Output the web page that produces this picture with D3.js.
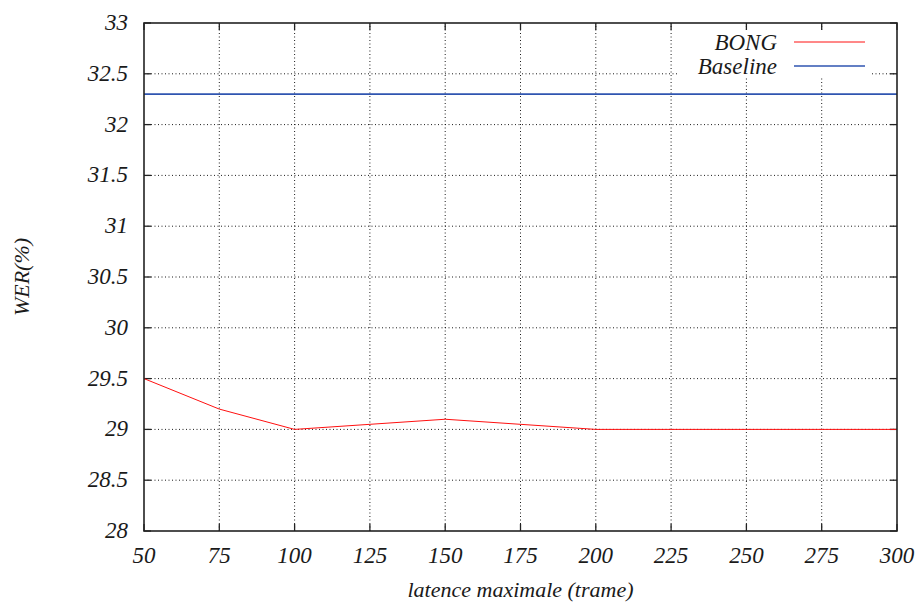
<!DOCTYPE html>
<html>
<head>
<meta charset="utf-8">
<script src="https://cdn.jsdelivr.net/npm/d3@7"></script>
<style>
  body { margin: 0; background: #fff; }
  svg text { font-family: "Liberation Serif", "Times New Roman", serif !important; font-style: italic !important; }
</style>
</head>
<body>
<div id="chart"></div>
<script>
// data
const latence = [50, 75, 100, 150, 200, 250, 300];
const bongWer = [29.5, 29.2, 29.0, 29.1, 29.0, 29.0, 29.0];
const baselineWer = 32.3;
const xTicks = [50, 75, 100, 125, 150, 175, 200, 225, 250, 275, 300];
const yTicks = [28, 28.5, 29, 29.5, 30, 30.5, 31, 31.5, 32, 32.5, 33];

const width = 922, height = 603;
const margin = { top: 23, right: 25, bottom: 72, left: 144 };

const svg = d3.select("#chart").append("svg")
  .attr("width", width).attr("height", height);

const x = d3.scaleLinear().domain([50, 300]).range([margin.left, width - margin.right]);
const y = d3.scaleLinear().domain([28, 33]).range([height - margin.bottom, margin.top]);

// italic serif labels, set inline so nothing overrides them
const label = (sel, size) => sel
  .attr("font-family", "Liberation Serif")
  .attr("font-style", "italic")
  .attr("font-size", size)
  .attr("fill", "#1a1a1a")
  .attr("style", `font-family: 'Liberation Serif', serif !important; font-style: italic !important; font-size: ${size}px !important;`);

// grid lines
const grid = svg.append("g")
  .attr("stroke", "#000")
  .attr("stroke-width", 0.9)
  .attr("stroke-dasharray", "1,2.5");
grid.selectAll(".gx").data(xTicks.slice(1, -1)).join("line")
  .attr("x1", d => x(d)).attr("x2", d => x(d))
  .attr("y1", y(28)).attr("y2", y(33));
grid.selectAll(".gy").data(yTicks.slice(1, -1)).join("line")
  .attr("x1", x(50)).attr("x2", x(300))
  .attr("y1", d => y(d)).attr("y2", d => y(d));

// ticks on all four sides (gnuplot mirror style)
const tickLen = 7;
const ticks = svg.append("g").attr("stroke", "#222").attr("stroke-width", 1.3);
xTicks.forEach(t => {
  ticks.append("line").attr("x1", x(t)).attr("x2", x(t)).attr("y1", y(28)).attr("y2", y(28) - tickLen);
  ticks.append("line").attr("x1", x(t)).attr("x2", x(t)).attr("y1", y(33)).attr("y2", y(33) + tickLen);
});
yTicks.forEach(t => {
  ticks.append("line").attr("x1", x(50)).attr("x2", x(50) + tickLen).attr("y1", y(t)).attr("y2", y(t));
  ticks.append("line").attr("x1", x(300)).attr("x2", x(300) - tickLen).attr("y1", y(t)).attr("y2", y(t));
});

// tick labels
svg.append("g").selectAll("text").data(xTicks).join("text")
  .attr("x", d => x(d)).attr("y", y(28) + 32)
  .attr("text-anchor", "middle")
  .call(label, 23)
  .text(d => d);
svg.append("g").selectAll("text").data(yTicks).join("text")
  .attr("x", x(50) - 16).attr("y", d => y(d) + 7)
  .attr("text-anchor", "end")
  .call(label, 23)
  .text(d => d);

// axis titles
svg.append("text")
  .attr("x", (x(50) + x(300)) / 2).attr("y", 597)
  .attr("text-anchor", "middle")
  .call(label, 22)
  .text("latence maximale (trame)");
svg.append("text")
  .attr("transform", `translate(29,${(y(28) + y(33)) / 2}) rotate(-90)`)
  .attr("text-anchor", "middle")
  .call(label, 22)
  .text("WER(%)");

// series
svg.append("line")
  .attr("x1", x(50)).attr("x2", x(300))
  .attr("y1", y(baselineWer)).attr("y2", y(baselineWer))
  .attr("stroke", "#2f55b0").attr("stroke-width", 1.6);

const line = d3.line().x((d, i) => x(latence[i])).y(d => y(d));
svg.append("path")
  .datum(bongWer)
  .attr("d", line)
  .attr("fill", "none")
  .attr("stroke", "#ff1010").attr("stroke-width", 1);

// border
svg.append("rect")
  .attr("x", x(50)).attr("y", y(33))
  .attr("width", x(300) - x(50)).attr("height", y(28) - y(33))
  .attr("fill", "none").attr("stroke", "#222").attr("stroke-width", 1.6);

// legend
const legend = [
  { name: "BONG", color: "#ff1010", w: 1 },
  { name: "Baseline", color: "#2f55b0", w: 1.6 }
];
const lg = svg.append("g");
legend.forEach((d, i) => {
  const ly = 42 + i * 24;
  lg.append("rect").attr("x", 678).attr("y", ly - 12).attr("width", 192).attr("height", 22).attr("fill", "#fff");
  lg.append("text").attr("x", 777).attr("y", ly + 8)
    .attr("text-anchor", "end")
    .call(label, 23)
    .text(d.name);
  lg.append("line").attr("x1", 794).attr("x2", 865).attr("y1", ly).attr("y2", ly)
    .attr("stroke", d.color).attr("stroke-width", d.w);
});
</script>
</body>
</html>
